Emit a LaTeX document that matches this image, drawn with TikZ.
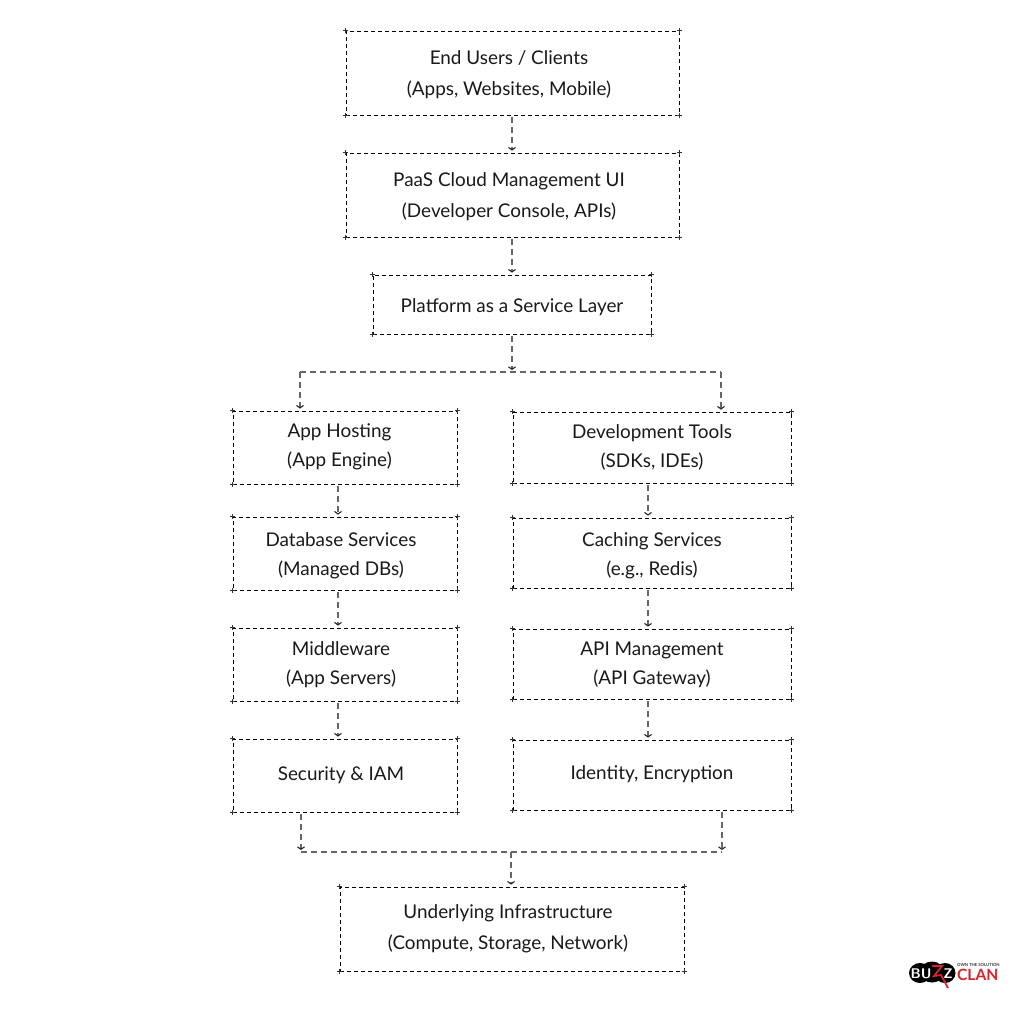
\documentclass[tikz,border=0pt]{standalone}
\usepackage{fontspec}
\setmainfont{Lato}
\usetikzlibrary{arrows.meta,positioning}
\definecolor{logored}{HTML}{D8232A}
\tikzset{
    %Define standard arrow tip
    >={Straight Barb[length=2.5pt,width=7pt,line width=1.1pt,color=black!85]},
    %Define style for boxes
    layerbox/.style={
           rectangle,
           draw=black, line width=0.75pt,
           dash pattern=on 4pt off 3pt,
           inner sep=0pt},
    boxtext/.style={
           align=center,
           font=\fontsize{18.9}{30.5}\selectfont,
           text=black!90},
    columntext/.style={
           boxtext,
           font=\fontsize{18.9}{29}\selectfont},
    crossmark/.style={
           draw=black!80, line width=0.5pt},
    % Define arrow style
    flow/.style={
           ->,
           draw=black!60, line width=1.5pt,
           dash pattern=on 6pt off 4pt,
           shorten >=2pt},
    trunk/.style={
           draw=black!60, line width=1.5pt,
           dash pattern=on 6pt off 4pt}
}
\begin{document}
\begin{tikzpicture}[x=1pt,y=-1pt]
\useasboundingbox (0,0) rectangle (1024,1009);

 %boxes
\node[layerbox, minimum width=333pt, minimum height=84pt] (users) at (512.5,73) {};
\node[layerbox, minimum width=333pt, minimum height=84pt] (ui) at (512.5,195) {};
\node[layerbox, minimum width=278pt, minimum height=59pt] (paas) at (512,304.5) {};
\node[layerbox, minimum width=224pt, minimum height=73pt] (hosting) at (345,447.5) {};
\node[layerbox, minimum width=224pt, minimum height=73pt] (database) at (345,553.5) {};
\node[layerbox, minimum width=224pt, minimum height=73pt] (middleware) at (345,664.5) {};
\node[layerbox, minimum width=224pt, minimum height=73pt] (security) at (345,775.5) {};
\node[layerbox, minimum width=278pt, minimum height=71pt] (tools) at (652,447.5) {};
\node[layerbox, minimum width=278pt, minimum height=70pt] (caching) at (652,553) {};
\node[layerbox, minimum width=278pt, minimum height=70pt] (gateway) at (652,664) {};
\node[layerbox, minimum width=278pt, minimum height=70pt] (identity) at (652,775) {};
\node[layerbox, minimum width=344pt, minimum height=84pt] (infra) at (512,929) {};

 %texts
\node[boxtext] (userstext) at (509,74.5) {End Users / Clients\\(Apps, Websites, Mobile)};
\node[boxtext] (uitext) at (509,196.5) {PaaS Cloud Management UI\\(Developer Console, APIs)};
\node[boxtext] (paastext) at (512,307) {Platform as a Service Layer};
\node[columntext] (hostingtext) at (339.5,446.5) {App Hosting\\(App Engine)};
\node[columntext] (databasetext) at (341,556) {Database Services\\(Managed DBs)};
\node[columntext] (middlewaretext) at (341,665) {Middleware\\(App Servers)};
\node[boxtext] (securitytext) at (341,775) {Security \& IAM};
\node[columntext] (toolstext) at (652,447.5) {Development Tools\\(SDKs, IDEs)};
\node[columntext] (cachingtext) at (652,556) {Caching Services\\(e.g., Redis)};
\node[columntext] (gatewaytext) at (652,665) {API Management\\(API Gateway)};
\node[boxtext] (identitytext) at (652,774) {Identity, Encryption};
\node[boxtext] (infratext) at (508,928.5) {Underlying Infrastructure\\(Compute, Storage, Network)};

 %corner marks
\foreach \b in {users,ui,paas,hosting,database,middleware,security,tools,caching,gateway,identity,infra}
  \foreach \c in {north west,north east,south west,south east}
    \draw[crossmark] ([xshift=-2.5pt]\b.\c) -- ([xshift=2.5pt]\b.\c)
                     ([yshift=-2.5pt]\b.\c) -- ([yshift=2.5pt]\b.\c);

 %lanes and junctions
\coordinate (lanel) at (338,0);
\coordinate (laner) at (648,0);
\coordinate (top) at (512,0);
\coordinate (splitm) at (512,372);
\coordinate (splitl) at (300,372);
\coordinate (splitr) at (721,372);
\coordinate (mergel) at (301,852);
\coordinate (merger) at (722,852);
\coordinate (mergem) at (511,852);

 %connectors
\draw[flow] ([yshift=-2pt]users.south -| top) -- (ui.north -| top);
\draw[flow] ([yshift=-2pt]ui.south -| top) -- (paas.north -| top);
\draw[flow] ([yshift=-2pt]paas.south -| top) -- (splitm);
\draw[trunk] (splitl) -- (splitr);
\draw[flow] (splitl) -- (splitl |- hosting.north);
\draw[flow] (splitr) -- (splitr |- tools.north);
\draw[flow] ([yshift=-2pt]hosting.south -| lanel) -- (database.north -| lanel);
\draw[flow] ([yshift=-2pt]database.south -| lanel) -- (middleware.north -| lanel);
\draw[flow] ([yshift=-2pt]middleware.south -| lanel) -- (security.north -| lanel);
\draw[flow] ([yshift=-2pt]tools.south -| laner) -- (caching.north -| laner);
\draw[flow] ([yshift=-2pt]caching.south -| laner) -- (gateway.north -| laner);
\draw[flow] ([yshift=-2pt]gateway.south -| laner) -- (identity.north -| laner);
\draw[flow] ([yshift=-2pt]security.south -| mergel) -- (mergel);
\draw[flow] ([yshift=-2pt]identity.south -| merger) -- (merger);
\draw[trunk] (mergel) -- (merger);
\draw[flow] (mergem) -- (mergem |- infra.north);

 %logo
\fill[black] (920,973) ellipse [x radius=11, y radius=10]
             (932,972) ellipse [x radius=12, y radius=10.5]
             (945,973) ellipse [x radius=10.5, y radius=10];
\node[text=white, font=\sffamily\bfseries\fontsize{14}{14}\selectfont, inner sep=0pt] (buzz) at (921,974) {BU};
\node[text=white, font=\sffamily\bfseries\fontsize{14}{14}\selectfont, inner sep=0pt] (zed) at (948,974) {Z};
\draw[logored, line width=1.8pt, line join=miter] (932,966) -- (942,966) -- (934,976) -- (941,975) -- (948,988);
\node[text=logored, font=\bfseries\fontsize{15.5}{15.5}\selectfont, anchor=west, inner sep=0pt] (clan) at (957,974.5) {CLAN};
\node[text=black!80, font=\bfseries\fontsize{4.2}{4.2}\selectfont, anchor=west, inner sep=0pt] (motto) at (957,965) {OWN THE SOLUTION};
\end{tikzpicture}
\end{document}
